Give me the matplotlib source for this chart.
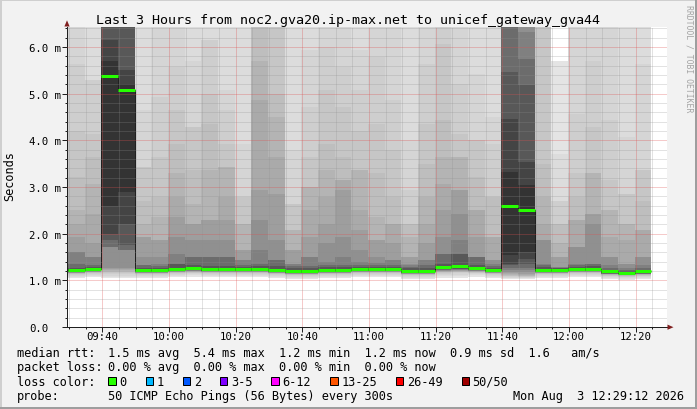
import matplotlib
matplotlib.use("Agg")
import matplotlib.pyplot as plt
import numpy as np
from matplotlib.patches import Rectangle, Polygon
from matplotlib.transforms import offset_copy
from matplotlib.ticker import MultipleLocator, FixedLocator

# ---------------------------------------------------------------- data
TITLE = "Last 3 Hours from noc2.gva20.ip-max.net to unicef_gateway_gva44"
Y_LABEL = "Seconds"
WATERMARK = "RRDTOOL / TOBI OETIKER"

START_TIME = "09:29:40"       # start of the first 5-minute column
STEP_MIN = 5
VIEW_START = "09:29:24"
VIEW_END = "12:29:24"

XTICK_LABELS = ["09:40", "10:00", "10:20", "10:40", "11:00", "11:20", "11:40", "12:00", "12:20"]
YTICK_VALUES = [0, 1, 2, 3, 4, 5, 6]
YTICK_LABELS = ["0.0", "1.0 m", "2.0 m", "3.0 m", "4.0 m", "5.0 m", "6.0 m"]

# median rtt per 5-minute column (ms)
MEDIAN = [1.23, 1.25, 5.37, 5.07, 1.23, 1.23, 1.25, 1.27, 1.25, 1.25,
          1.25, 1.25, 1.23, 1.21, 1.21, 1.23, 1.23, 1.25, 1.25, 1.25,
          1.21, 1.21, 1.29, 1.31, 1.27, 1.23, 2.60, 2.51, 1.23, 1.23,
          1.25, 1.25, 1.19, 1.16, 1.19]

# smoke: upper ping value of each band (outer -> inner), ms
SMOKE_UP = [
    [6.6, 6.6, 6.6, 5.64, 4.21, 3.21, 2.50, 2.21, 1.93, 1.61, 1.61, 1.36, 1.27, 1.24, 1.24],
    [6.6, 6.6, 5.29, 5.29, 4.14, 3.64, 3.07, 2.43, 1.79, 1.50, 1.50, 1.33, 1.29, 1.26, 1.26],
    [6.6, 6.6, 6.6, 6.6, 6.6, 6.6, 6.6, 6.6, 6.6, 6.6, 6.6, 6.6, 6.6, 6.14, 5.71],
    [6.6, 6.6, 6.6, 6.6, 6.6, 6.6, 6.6, 6.6, 6.6, 6.6, 6.6, 6.6, 6.6, 5.50, 5.20],
    [6.6, 6.6, 4.64, 3.43, 3.43, 2.71, 2.21, 1.93, 1.93, 1.50, 1.32, 1.32, 1.27, 1.24, 1.24],
    [6.6, 6.6, 6.6, 4.93, 3.64, 2.79, 2.36, 1.86, 1.86, 1.50, 1.34, 1.30, 1.27, 1.24, 1.24],
    [6.6, 6.6, 6.6, 5.57, 4.64, 3.93, 3.29, 2.79, 2.36, 1.93, 1.57, 1.36, 1.36, 1.26, 1.26],
    [6.6, 6.6, 5.71, 4.29, 4.29, 3.36, 2.64, 2.21, 2.21, 1.86, 1.50, 1.50, 1.33, 1.28, 1.28],
    [6.6, 6.6, 6.14, 6.14, 5.00, 4.36, 3.36, 2.29, 2.29, 1.86, 1.50, 1.50, 1.31, 1.26, 1.26],
    [6.6, 6.6, 5.07, 4.64, 3.93, 3.43, 3.43, 2.79, 2.29, 1.86, 1.50, 1.50, 1.31, 1.26, 1.26],
    [6.6, 6.6, 3.93, 2.79, 2.79, 2.21, 2.21, 1.64, 1.64, 1.43, 1.43, 1.33, 1.29, 1.26, 1.26],
    [6.6, 6.6, 6.6, 6.6, 6.6, 6.6, 5.71, 4.86, 2.93, 2.29, 1.64, 1.36, 1.30, 1.26, 1.26],
    [6.6, 6.6, 6.6, 6.6, 6.6, 5.00, 4.50, 3.64, 2.86, 1.86, 1.43, 1.43, 1.30, 1.24, 1.24],
    [6.6, 6.6, 3.79, 2.64, 2.64, 2.07, 2.07, 1.64, 1.64, 1.36, 1.36, 1.30, 1.26, 1.22, 1.22],
    [6.6, 6.6, 5.93, 4.71, 3.64, 3.00, 3.00, 2.50, 1.93, 1.50, 1.50, 1.31, 1.26, 1.22, 1.22],
    [6.6, 6.6, 6.6, 6.00, 5.07, 3.93, 3.36, 2.79, 2.21, 1.79, 1.40, 1.33, 1.28, 1.24, 1.24],
    [6.6, 6.6, 6.6, 5.57, 4.71, 3.64, 3.14, 3.14, 2.93, 1.93, 1.50, 1.33, 1.28, 1.24, 1.24],
    [6.6, 6.6, 5.93, 5.07, 4.21, 3.36, 3.36, 2.50, 2.07, 1.64, 1.40, 1.33, 1.29, 1.26, 1.26],
    [6.6, 6.6, 6.6, 5.79, 4.36, 3.29, 2.36, 1.86, 1.86, 1.50, 1.38, 1.33, 1.29, 1.26, 1.26],
    [6.6, 6.6, 6.6, 4.86, 3.79, 2.79, 2.21, 2.21, 1.79, 1.43, 1.43, 1.33, 1.29, 1.26, 1.26],
    [6.6, 6.6, 4.00, 2.93, 2.21, 2.21, 1.93, 1.50, 1.50, 1.36, 1.32, 1.29, 1.26, 1.22, 1.22],
    [6.6, 6.6, 6.6, 5.64, 4.36, 3.50, 2.79, 2.21, 1.79, 1.43, 1.43, 1.32, 1.27, 1.22, 1.22],
    [6.6, 6.6, 6.6, 6.6, 6.07, 4.43, 3.64, 3.07, 2.50, 1.93, 1.57, 1.57, 1.36, 1.30, 1.30],
    [6.6, 6.6, 6.6, 5.21, 4.14, 3.64, 3.64, 2.93, 2.93, 2.43, 1.86, 1.57, 1.57, 1.32, 1.32],
    [6.6, 6.6, 5.43, 4.00, 4.00, 3.21, 2.50, 2.50, 1.93, 1.50, 1.50, 1.50, 1.33, 1.28, 1.28],
    [6.6, 6.6, 4.50, 3.93, 2.79, 2.79, 1.93, 1.93, 1.43, 1.43, 1.34, 1.30, 1.27, 1.24, 1.24],
    [6.6, 6.6, 6.6, 6.6, 6.6, 6.6, 6.6, 6.6, 6.6, 6.6, 6.6, 6.6, 5.46, 4.46, 3.32],
    [6.6, 6.6, 6.6, 6.6, 6.6, 6.6, 6.6, 6.6, 6.6, 6.6, 6.32, 5.75, 5.18, 3.54, 3.04],
    [6.6, 6.6, 6.6, 6.6, 6.6, 3.50, 2.79, 2.21, 1.86, 1.86, 1.36, 1.32, 1.28, 1.24, 1.24],
    [5.71, 3.71, 2.71, 2.71, 2.21, 2.21, 1.79, 1.50, 1.50, 1.29, 1.28, 1.27, 1.26, 1.24, 1.24],
    [6.6, 6.6, 6.6, 4.57, 3.29, 2.79, 2.29, 2.29, 1.71, 1.71, 1.36, 1.33, 1.29, 1.26, 1.26],
    [6.6, 6.6, 6.6, 5.71, 4.29, 3.29, 3.29, 2.43, 2.43, 2.21, 1.36, 1.36, 1.30, 1.26, 1.26],
    [6.6, 6.6, 6.6, 4.43, 3.14, 2.50, 2.50, 1.93, 1.50, 1.50, 1.32, 1.27, 1.23, 1.20, 1.20],
    [6.6, 6.6, 4.07, 2.86, 2.86, 2.21, 2.21, 1.86, 1.36, 1.36, 1.27, 1.23, 1.20, 1.17, 1.17],
    [6.6, 6.6, 5.64, 3.36, 3.36, 2.71, 2.07, 2.07, 1.50, 1.50, 1.32, 1.27, 1.23, 1.20, 1.20],
]

# smoke: lower ping value of each band (outer -> inner), ms
LOW_116 = [1.01, 1.03, 1.05, 1.07, 1.08, 1.09, 1.10, 1.105, 1.11, 1.115, 1.12, 1.125, 1.13, 1.135, 1.14]
LOW_119 = [1.03, 1.05, 1.07, 1.09, 1.10, 1.11, 1.12, 1.125, 1.13, 1.135, 1.14, 1.145, 1.15, 1.155, 1.16]
LOW_121 = [1.03, 1.06, 1.08, 1.10, 1.11, 1.12, 1.13, 1.135, 1.14, 1.145, 1.15, 1.155, 1.16, 1.165, 1.17]
LOW_123 = [1.05, 1.08, 1.10, 1.12, 1.13, 1.14, 1.15, 1.155, 1.16, 1.165, 1.17, 1.175, 1.18, 1.185, 1.19]
LOW_125 = [1.07, 1.10, 1.12, 1.14, 1.15, 1.16, 1.17, 1.175, 1.18, 1.185, 1.19, 1.195, 1.20, 1.205, 1.21]
LOW_127 = [1.08, 1.11, 1.13, 1.15, 1.16, 1.17, 1.18, 1.19, 1.20, 1.205, 1.21, 1.215, 1.22, 1.225, 1.23]
LOW_129 = [1.06, 1.09, 1.12, 1.14, 1.16, 1.17, 1.18, 1.19, 1.20, 1.21, 1.22, 1.23, 1.24, 1.245, 1.25]
LOW_131 = [1.06, 1.09, 1.12, 1.15, 1.17, 1.18, 1.19, 1.20, 1.21, 1.22, 1.23, 1.24, 1.25, 1.26, 1.27]
LOW_0940 = [1.04, 1.07, 1.10, 1.13, 1.15, 1.17, 1.19, 1.22, 1.24, 1.26, 1.71, 1.71, 1.86, 2.00, 2.60]
LOW_0945 = [1.04, 1.07, 1.10, 1.13, 1.15, 1.17, 1.19, 1.22, 1.24, 1.26, 1.64, 1.64, 1.75, 2.20, 2.90]
LOW_1140 = [1.03, 1.05, 1.06, 1.08, 1.09, 1.10, 1.12, 1.14, 1.16, 1.18, 1.22, 1.27, 1.32, 1.36, 1.55]
LOW_1145 = [1.03, 1.05, 1.06, 1.07, 1.08, 1.09, 1.10, 1.12, 1.14, 1.17, 1.22, 1.27, 1.35, 1.45, 1.60]

SMOKE_LO = [LOW_123, LOW_125, LOW_0940, LOW_0945, LOW_123, LOW_123, LOW_125, LOW_127,
            LOW_125, LOW_125, LOW_125, LOW_125, LOW_123, LOW_121, LOW_121, LOW_123,
            LOW_123, LOW_125, LOW_125, LOW_125, LOW_121, LOW_121, LOW_129, LOW_131,
            LOW_127, LOW_123, LOW_1140, LOW_1145, LOW_123, LOW_123, LOW_125, LOW_125,
            LOW_119, LOW_116, LOW_119]

# gray level of each smoke band (outer -> inner)
SMOKE_GRAYS = [228, 220, 213, 206, 198, 190, 180, 170, 158, 144, 128, 108, 88, 68, 51]

LEGEND_RTT = "1.5 ms avg  5.4 ms max  1.2 ms min  1.2 ms now  0.9 ms sd  1.6   am/s"
LEGEND_LOSS = "0.00 % avg  0.00 % max  0.00 % min  0.00 % now"
LOSS_LABELS = ["0", "1", "2", "3-5", "6-12", "13-25", "26-49", "50/50"]
LOSS_COLORS = ["#26ff00", "#00b8ff", "#0059ff", "#7e00ff", "#ff00ff", "#ff5500", "#ff0000", "#a00000"]
PROBE = "50 ICMP Echo Pings (56 Bytes) every 300s"
STAMP = "Mon Aug  3 12:29:12 2026"


def minutes(s):
    parts = [int(p) for p in s.split(":")]
    while len(parts) < 3:
        parts.append(0)
    return parts[0] * 60 + parts[1] + parts[2] / 60.0


# ---------------------------------------------------------------- figure
W, H, DPI = 697, 410, 100
MONO = "DejaVu Sans Mono"
FS_LEG = 8.53
FS_AXIS = 7.7
CHAR_W = 7.13
AX_CHAR_W = FS_AXIS / 72 * DPI * 0.602

fig = plt.figure(figsize=(W / DPI, H / DPI), dpi=DPI, facecolor="#f2f2f2")
ax = fig.add_axes([67 / W, (H - 328) / H, 600 / W, 300 / H])
ax.set_facecolor("white")
ax.set_xlim(minutes(VIEW_START), minutes(VIEW_END))
ax.set_ylim(0, 300 / 46.67)

n = len(MEDIAN)
lefts = minutes(START_TIME) + STEP_MIN * np.arange(n)
edges = np.append(lefts, lefts[-1] + STEP_MIN)
up = np.array(SMOKE_UP)
lo = np.array(SMOKE_LO)
for k, g in enumerate(SMOKE_GRAYS):
    ax.bar(lefts, up[:, k] - lo[:, k], bottom=lo[:, k], width=STEP_MIN, align="edge",
           color="#%02x%02x%02x" % (g, g, g), linewidth=0, antialiased=False, zorder=1)

ax.stairs(MEDIAN, edges, baseline=None, color="#202020", linewidth=0.72, zorder=2)
ax.hlines(MEDIAN, lefts, lefts + STEP_MIN, colors="#26ff00", linewidth=2.16,
          capstyle="butt", zorder=4)

xt = [minutes(t) for t in XTICK_LABELS]
ax.xaxis.set_major_locator(FixedLocator(xt))
ax.xaxis.set_minor_locator(MultipleLocator(STEP_MIN))
ax.yaxis.set_major_locator(FixedLocator(YTICK_VALUES))
ax.yaxis.set_minor_locator(MultipleLocator(0.2))
ax.set_axisbelow(False)
ax.grid(which="minor", color="#8f8f8f", alpha=0.5, linewidth=0.72, linestyle=(0, (1, 1)))
ax.grid(which="major", color="#de5050", alpha=0.6, linewidth=0.72, linestyle=(0, (1, 1)))
ax.tick_params(which="major", direction="out", length=3.6, width=0.72, color="#1f1f1f",
               labelbottom=False, labelleft=False)
ax.tick_params(which="minor", direction="out", length=1.5, width=0.72, color="#1f1f1f")
for s in ("top", "right"):
    ax.spines[s].set_visible(False)
for s in ("left", "bottom"):
    ax.spines[s].set_color("#1f1f1f")
    ax.spines[s].set_linewidth(0.72)

xl_trans = offset_copy(ax.get_xaxis_transform(), fig=fig, x=0, y=-12.5, units="dots")
for t, lab in zip(xt, XTICK_LABELS):
    ax.text(t, 0, lab, transform=xl_trans, ha="center", va="baseline",
            fontsize=FS_AXIS, family=MONO, clip_on=False)
for v, lab in zip(YTICK_VALUES, YTICK_LABELS):
    tr = offset_copy(ax.get_yaxis_transform(), fig=fig,
                     x=-6 - (5 - len(lab)) * AX_CHAR_W, y=-4, units="dots")
    ax.text(0, v, lab, transform=tr, ha="right", va="baseline",
            fontsize=FS_AXIS, family=MONO, clip_on=False)

# ---------------------------------------------------------------- overlay (pixel coords)
ov = fig.add_axes([0, 0, 1, 1], zorder=5)
ov.set_xlim(0, W)
ov.set_ylim(H, 0)
ov.axis("off")

ov.add_patch(Rectangle((0, 0), W, 2, color="#cfcfcf", lw=0))
ov.add_patch(Rectangle((0, 0), 2, H, color="#cfcfcf", lw=0))
ov.add_patch(Rectangle((0, H - 2), W, 2, color="#9e9e9e", lw=0))
ov.add_patch(Rectangle((W - 2, 0), 2, H, color="#9e9e9e", lw=0))

ov.add_patch(Polygon([(64.4, 27.5), (69.6, 27.5), (67.0, 21.3)], closed=True,
                     facecolor="#801f1f", edgecolor="none"))
ov.add_patch(Polygon([(667.5, 325.6), (667.5, 330.8), (673.5, 328.2)], closed=True,
                     facecolor="#801f1f", edgecolor="none"))

ov.text(348.5, 24, TITLE, ha="center", va="baseline", fontsize=9.6, family=MONO)
ov.text(10, 176, Y_LABEL, rotation=90, ha="center", va="center", fontsize=FS_LEG, family=MONO)
ov.text(688.5, 5, WATERMARK, rotation=270, ha="center", va="top", fontsize=5.9,
        family=MONO, color="#a4a4a4")

rows = [357.3, 371.5, 385.7, 399.6]
ov.text(16.7, rows[0], "median rtt:", va="baseline", fontsize=FS_LEG, family=MONO)
ov.text(107.7, rows[0], LEGEND_RTT, va="baseline", fontsize=FS_LEG, family=MONO)
ov.text(16.7, rows[1], "packet loss:", va="baseline", fontsize=FS_LEG, family=MONO)
ov.text(107.7, rows[1], LEGEND_LOSS, va="baseline", fontsize=FS_LEG, family=MONO)
ov.text(16.7, rows[2], "loss color:", va="baseline", fontsize=FS_LEG, family=MONO)
x = 108.3
for lab, col in zip(LOSS_LABELS, LOSS_COLORS):
    ov.add_patch(Rectangle((x, rows[2] - 7.5), 7.5, 7.5, facecolor=col,
                           edgecolor="black", lw=0.72))
    ov.text(x + 11, rows[2], lab, va="baseline", fontsize=FS_LEG, family=MONO)
    x += 11 + len(lab) * CHAR_W + 19.1
ov.text(16.7, rows[3], "probe:", va="baseline", fontsize=FS_LEG, family=MONO)
ov.text(107.7, rows[3], PROBE, va="baseline", fontsize=FS_LEG, family=MONO)
ov.text(513.3, rows[3], STAMP, va="baseline", fontsize=FS_LEG, family=MONO)

fig.savefig("out.png", dpi=DPI, facecolor=fig.get_facecolor())
